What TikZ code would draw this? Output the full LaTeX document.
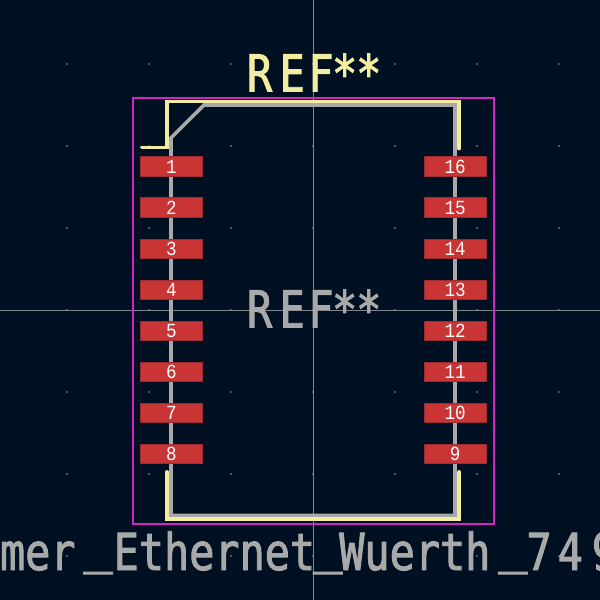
\documentclass[tikz,border=0pt]{standalone}
\usepackage{fontspec}
\newfontfamily\kifont[FakeStretch=0.82,FakeBold=1.8]{DejaVu Sans Mono}
\newfontfamily\kiwide[FakeStretch=0.95,FakeBold=1.8]{DejaVu Sans Mono}
\newfontfamily\padfont[FakeStretch=0.88]{Liberation Mono}
\newcommand{\kiund}{\raisebox{8pt}{\kiwide\_}}
\definecolor{boardbg}{HTML}{001023}
\definecolor{cross}{HTML}{84848C}
\definecolor{griddot}{HTML}{4A5663}
\definecolor{court}{HTML}{D424C4}
\definecolor{silk}{HTML}{F2EDA1}
\definecolor{fab}{HTML}{A9A9A9}
\definecolor{padfill}{HTML}{C93434}
\definecolor{padedge}{HTML}{9C2A30}
\tikzset{
  crossline/.style={draw=cross,line width=1.1pt},
  courtline/.style={draw=court,line width=1.8pt},
  silkline/.style={draw=silk,line width=3.8pt,line join=miter,line cap=round},
  fabline/.style={draw=fab,line width=3.6pt,line join=miter},
  padbox/.style={draw=padedge,line width=0.9pt,fill=padfill,minimum width=61.5pt,minimum height=19.6pt,inner sep=0pt,outer sep=0pt,text=white,font=\padfont\fontsize{20}{20}\selectfont},
  bigtext/.style={inner sep=0pt,outer sep=0pt,font=\kifont\fontsize{51}{51}\selectfont},
}
\begin{document}
\begin{tikzpicture}[x=1pt,y=-1pt]
\useasboundingbox (0,0) rectangle (600,600);
\clip (0,0) rectangle (600,600);
\fill[boardbg] (0,0) rectangle (600,600);
\foreach \gx in {67,149,231,313,395,477,559}
  \foreach \gy in {64,146,228,310,392,474,556}
    \fill[griddot] (\gx-0.6,\gy-0.6) rectangle (\gx+0.6,\gy+0.6);
\coordinate (vt) at (313.5,0); \coordinate (vb) at (313.5,600);
\coordinate (hl) at (0,310.8); \coordinate (hr) at (600,310.8);
\draw[crossline] (vt) -- (vb);
\draw[crossline] (hl) -- (hr);
\draw[courtline] (132.8,97.7) rectangle (494,523.6);
\draw[fabline] (171,515.3) -- (171,137.8) -- (204,105) -- (455,105) -- (455,515.3) -- cycle;
\draw[silkline] (142,147.4) -- (167,147.4) -- (167,101.5) -- (459.3,101.5) -- (459.3,148.5);
\draw[silkline] (167,472) -- (167,519) -- (459.3,519) -- (459.3,472);
\foreach \n in {1,...,8} {
  \node[padbox] (p\n) at (171.3,{166.7+41.04*(\n-1)}) {\n};
}
\foreach \n/\k in {9/7,10/6,11/5,12/4,13/3,14/2,15/1,16/0} {
  \node[padbox] (p\n) at (455.2,{166.7+41.04*\k}) {\n};
}
\node[bigtext,text=silk,anchor=base west] (refa) at (247,91.5) {R\kern7.5pt E\kern3.5pt F\kern-1.5pt*\kern-1pt*};
\node[bigtext,text=fab,anchor=base west] (refb) at (247,327.5) {R\kern7.5pt E\kern3.5pt F\kern-1.5pt*\kern-1pt*};
\node[bigtext,text=fab,anchor=base west] (val) at (0,570) {mer\kern8pt\kiund\kern1pt Ethernet\kern-2pt\kiund\kern-3pt Wuerth\kern8pt\kiund\kern-1pt 7\kern6pt 4\kern9pt 9};
\end{tikzpicture}
\end{document}
